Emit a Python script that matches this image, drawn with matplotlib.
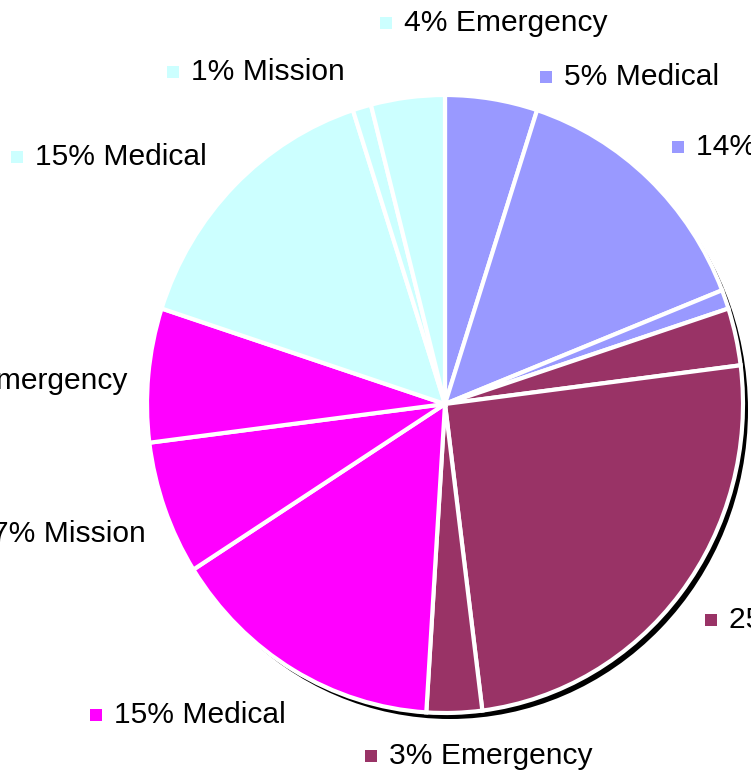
import matplotlib
matplotlib.use("Agg")
import matplotlib.pyplot as plt
from matplotlib.patches import Circle, Rectangle

plt.rcParams['font.family'] = ['Liberation Sans', 'DejaVu Sans']

labels = ["5% Medical", "14% Mission", "1% Emergency",
          "3% Medical", "25% Mission", "3% Emergency",
          "15% Medical", "7% Mission", "7% Emergency",
          "15% Medical", "1% Mission", "4% Emergency"]
values = [5, 14, 1, 3, 25, 3, 15, 7, 7, 15, 1, 4]
colors = ["#9999FF", "#9999FF", "#9999FF",
          "#993366", "#993366", "#993366",
          "#FF00FF", "#FF00FF", "#FF00FF",
          "#CCFFFF", "#CCFFFF", "#CCFFFF"]

W, H = 751, 772
fig = plt.figure(figsize=(W / 100, H / 100), dpi=100)

# pie geometry in pixels (from top-left)
cx, cy, rx, ry = 445, 404, 298, 309
sx, sy = 5, 6  # shadow offset

axp = fig.add_axes([(cx - rx) / W, (H - cy - ry) / H, 2 * rx / W, 2 * ry / H])
axp.set_aspect('auto')
axp.add_patch(Circle((sx / rx, -sy / ry), 1.0, facecolor='black', edgecolor='none', zorder=0))
axp.pie(values, colors=colors, startangle=90, counterclock=False,
        radius=1.0, frame=True,
        wedgeprops=dict(edgecolor='white', linewidth=3))
axp.set_aspect('auto')
axp.set_xlim(-1, 1)
axp.set_ylim(-1, 1)
axp.axis('off')
for p in axp.patches:
    p.set_clip_on(False)

ax = fig.add_axes([0, 0, 1, 1])
ax.set_xlim(0, W)
ax.set_ylim(0, H)
ax.axis('off')
ax.patch.set_visible(False)

# label positions (square left x / text right x, text center y in px from top)
lab_pos = [
    (540, 77, 'left'),    # 5% Medical
    (672, 147, 'left'),   # 14% Mission
    None,                 # 1% Emergency (outside the picture)
    None,                 # 3% Medical (outside the picture)
    (705, 620, 'left'),   # 25% Mission
    (365, 756, 'left'),   # 3% Emergency
    (90, 715, 'left'),    # 15% Medical
    (146, 534, 'right'),  # 7% Mission
    (127, 381, 'right'),  # 7% Emergency
    (11, 157, 'left'),    # 15% Medical
    (167, 72, 'left'),    # 1% Mission
    (380, 23, 'left'),    # 4% Emergency
]

fs = 21.6
sq = 12
for lab, col, pos in zip(labels, colors, lab_pos):
    if pos is None:
        continue
    x, y, ha = pos
    yd = H - y
    if ha == 'left':
        ax.add_patch(Rectangle((x, yd - sq / 2), sq, sq, facecolor=col, edgecolor='none', zorder=5))
        ax.text(x + 24, yd, lab, fontsize=fs, ha='left', va='center', color='black', zorder=6)
    else:
        ax.text(x, yd, lab, fontsize=fs, ha='right', va='center', color='black', zorder=6)

fig.savefig("out.png", dpi=100)
